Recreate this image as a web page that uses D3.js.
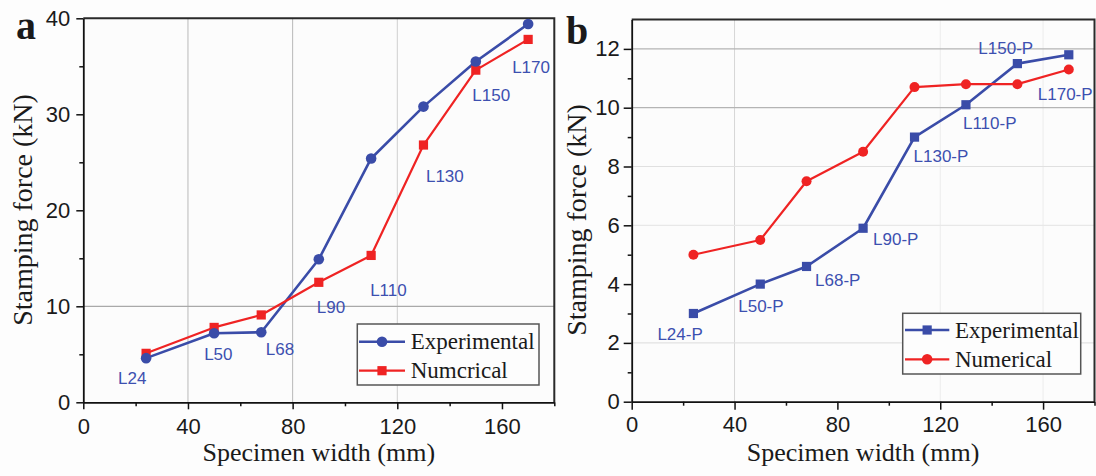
<!DOCTYPE html>
<html>
<head>
<meta charset="utf-8">
<script src="https://cdn.jsdelivr.net/npm/d3@7"></script>
<style>
  html, body { margin: 0; padding: 0; background: #fdfdfd; }
  svg { display: block; }
</style>
</head>
<body>
<svg id="chart" width="1096" height="476"></svg>
<script>
// ---------------- DATA ----------------
const widths = [24, 50, 68, 90, 110, 130, 150, 170];

// Panel a
const expA = [4.6, 7.2, 7.3, 14.9, 25.4, 30.8, 35.5, 39.4];
const numA = [5.1, 7.8, 9.1, 12.5, 15.3, 26.8, 34.6, 37.8];
const labelsA = ["L24", "L50", "L68", "L90", "L110", "L130", "L150", "L170"];
const xTicksA = [0, 40, 80, 120, 160];
const xMinorA = [20, 60, 100, 140, 180];
const yTicksA = [0, 10, 20, 30, 40];
const yMinorA = [5, 15, 25, 35];
const legendA = ["Experimental", "Numcrical"];

// Panel b
const expB = [3.0, 4.0, 4.6, 5.9, 9.0, 10.1, 11.5, 11.8];
const numB = [5.0, 5.5, 7.5, 8.5, 10.7, 10.8, 10.8, 11.3];
const labelsB = ["L24-P", "L50-P", "L68-P", "L90-P", "L130-P", "L110-P", "L150-P", "L170-P"];
const xTicksB = [0, 40, 80, 120, 160];
const xMinorB = [20, 60, 100, 140, 180];
const yTicksB = [0, 2, 4, 6, 8, 10, 12];
const yMinorB = [1, 3, 5, 7, 9, 11];
const legendB = ["Experimental", "Numerical"];

const xTitle = "Specimen width (mm)";
const yTitle = "Stamping force (kN)";

// ---------------- STYLE / LAYOUT ----------------
const BLUE = "#3a4ca8";
const RED = "#ef2323";
const LABEL_BLUE = "#3d50b0";
const SANS = "'Liberation Sans', Arial, sans-serif";
const SERIF = "'Liberation Serif', 'Times New Roman', serif";

// label offsets (px) relative to the experimental point
const offA = [[-28, 26], [-10, 27], [4.5, 23], [-2, 54], [-1, 137.5], [2.5, 75], [-3.5, 39.5], [-16, 48.5]];
const offB = [[-36, 26], [-22, 27.6], [8.5, 20], [10, 17], [-1, 24.6], [-3, 24.5], [-39, -10], [-31, 45]];

const svg = d3.select("#chart");

function panel(cfg) {
  const g = svg.append("g");
  const x = d3.scaleLinear().domain([0, 180]).range(cfg.xr);
  const y = d3.scaleLinear().domain(cfg.yd).range(cfg.yr);
  const [x0, x1] = cfg.xr, [y0, y1] = cfg.yr;

  // background
  g.append("rect").attr("x", x0).attr("y", y1).attr("width", x1 - x0).attr("height", y0 - y1)
    .attr("fill", "#fcfcfc");

  // grid
  cfg.gridX.forEach(([v, c]) => g.append("line")
    .attr("x1", x(v)).attr("x2", x(v)).attr("y1", y0).attr("y2", y1)
    .attr("stroke", c).attr("stroke-width", 1));
  cfg.gridY.forEach(([v, c]) => g.append("line")
    .attr("x1", x0).attr("x2", x1).attr("y1", y(v)).attr("y2", y(v))
    .attr("stroke", c).attr("stroke-width", 1.2));

  // top & right border
  g.append("path").attr("d", `M${x0},${y1}H${x1}V${y0}`)
    .attr("fill", "none").attr("stroke", "#2a2a2a").attr("stroke-width", 2);

  // axes
  const xa = g.append("g").attr("transform", `translate(0,${y0})`)
    .call(d3.axisBottom(x).tickValues(cfg.xTicks).tickSize(cfg.tick).tickPadding(cfg.xPad).tickSizeOuter(0));
  g.append("g").attr("transform", `translate(0,${y0})`)
    .call(d3.axisBottom(x).tickValues(cfg.xMinor).tickSize(4).tickFormat("").tickSizeOuter(0))
    .select(".domain").remove();
  const ya = g.append("g").attr("transform", `translate(${x0},0)`)
    .call(d3.axisLeft(y).tickValues(cfg.yTicks).tickSize(cfg.tick).tickPadding(cfg.yPad).tickSizeOuter(0));
  g.append("g").attr("transform", `translate(${x0},0)`)
    .call(d3.axisLeft(y).tickValues(cfg.yMinor).tickSize(4).tickFormat("").tickSizeOuter(0))
    .select(".domain").remove();
  g.selectAll(".domain").attr("stroke", "#111").attr("stroke-width", 1.8);
  g.selectAll(".tick line").attr("stroke", "#111").attr("stroke-width", 1.5);
  [xa, ya].forEach(a => a.selectAll("text")
    .attr("font-family", SANS).attr("font-size", 22).attr("fill", "#1a1a1a"));

  // lines
  const line = d3.line().x((d, i) => x(widths[i])).y(d => y(d));
  g.append("path").datum(cfg.exp).attr("d", line)
    .attr("fill", "none").attr("stroke", BLUE).attr("stroke-width", 2.6).attr("stroke-linejoin", "round");
  g.append("path").datum(cfg.num).attr("d", line)
    .attr("fill", "none").attr("stroke", RED).attr("stroke-width", 2.2).attr("stroke-linejoin", "round");

  function marker(sel, type, color, cx, cy, s) {
    if (type === "circle") {
      sel.append("circle").attr("cx", cx).attr("cy", cy).attr("r", s).attr("fill", color);
    } else {
      sel.append("rect").attr("x", cx - s).attr("y", cy - s).attr("width", 2 * s).attr("height", 2 * s).attr("fill", color);
    }
  }
  cfg.num.forEach((v, i) => marker(g, cfg.numMarker, RED, x(widths[i]), y(v), cfg.numMarker === "circle" ? 5 : 4.6));
  cfg.exp.forEach((v, i) => marker(g, cfg.expMarker, BLUE, x(widths[i]), y(v), cfg.expMarker === "circle" ? 5.3 : 4.6));

  // point labels
  cfg.labels.forEach((t, i) => g.append("text")
    .attr("x", x(widths[i]) + cfg.off[i][0]).attr("y", y(cfg.exp[i]) + cfg.off[i][1])
    .attr("font-family", SANS).attr("font-size", 17).attr("fill", LABEL_BLUE).text(t));

  // legend
  const L = cfg.legend;
  g.append("rect").attr("x", L.x).attr("y", L.y).attr("width", L.w).attr("height", L.h)
    .attr("fill", "#fdfdfd").attr("stroke", "#555").attr("stroke-width", 1.5);
  const items = [[cfg.legendText[0], BLUE, cfg.expMarker, 2.6], [cfg.legendText[1], RED, cfg.numMarker, 2.2]];
  items.forEach(([t, c, m, sw], i) => {
    const cy = L.rowY[i];
    g.append("line").attr("x1", L.lx0).attr("x2", L.lx1).attr("y1", cy).attr("y2", cy)
      .attr("stroke", c).attr("stroke-width", sw);
    marker(g, m, c, (L.lx0 + L.lx1) / 2, cy, m === "circle" ? 5.3 : 4.6);
    g.append("text").attr("x", L.tx).attr("y", cy + 7.5)
      .attr("font-family", SERIF).attr("font-size", 23).attr("fill", "#1a1a1a").text(t);
  });

  // axis titles
  g.append("text").attr("x", (x0 + x1) / 2).attr("y", 461)
    .attr("text-anchor", "middle").attr("font-family", SERIF).attr("font-size", 26).attr("fill", "#1a1a1a")
    .text(xTitle);
  g.append("text").attr("transform", `translate(${cfg.yTitleX},${cfg.yTitleY}) rotate(-90)`)
    .attr("text-anchor", "middle").attr("font-family", SERIF).attr("font-size", 28).attr("fill", "#1a1a1a")
    .text(yTitle);

  // panel letter
  g.append("text").attr("x", cfg.letterX).attr("y", cfg.letterY)
    .attr("font-family", SERIF).attr("font-weight", "bold").attr("font-size", 40).attr("fill", "#1a1a1a")
    .text(cfg.letter);
}

panel({
  xr: [83.3, 554.3], yd: [0, 40], yr: [402.3, 18.3],
  xTicks: xTicksA, xMinor: xMinorA, yTicks: yTicksA, yMinor: yMinorA,
  tick: 7, xPad: 9, yPad: 6,
  gridX: [[40, "#b9b9b9"], [80, "#b9b9b9"], [120, "#cfcfcf"]],
  gridY: [[10, "#a9a9a9"]],
  exp: expA, num: numA, expMarker: "circle", numMarker: "square",
  labels: labelsA, off: offA,
  legend: { x: 357.3, y: 324, w: 181.7, h: 61, rowY: [341.7, 370.7], lx0: 359, lx1: 405, tx: 410.7 },
  legendText: legendA,
  yTitleX: 32, yTitleY: 210, letter: "a", letterX: 16, letterY: 39
});

panel({
  xr: [631.7, 1094.5], yd: [0, 13], yr: [401.7, 19.5],
  xTicks: xTicksB, xMinor: xMinorB, yTicks: yTicksB, yMinor: yMinorB,
  tick: 8, xPad: 7, yPad: 4,
  gridX: [[40, "#d6d6d6"], [120, "#ececec"], [160, "#ececec"]],
  gridY: [[2, "#e2e2e2"], [6, "#e8e8e8"], [8, "#e0e0e0"], [10, "#b4b4b4"], [12, "#b4b4b4"]],
  exp: expB, num: numB, expMarker: "square", numMarker: "circle",
  labels: labelsB, off: offB,
  legend: { x: 902.7, y: 313.3, w: 178, h: 60.7, rowY: [330, 359.3], lx0: 905, lx1: 949.3, tx: 955 },
  legendText: legendB,
  yTitleX: 586, yTitleY: 220, letter: "b", letterX: 566, letterY: 44
});
</script>
</body>
</html>
